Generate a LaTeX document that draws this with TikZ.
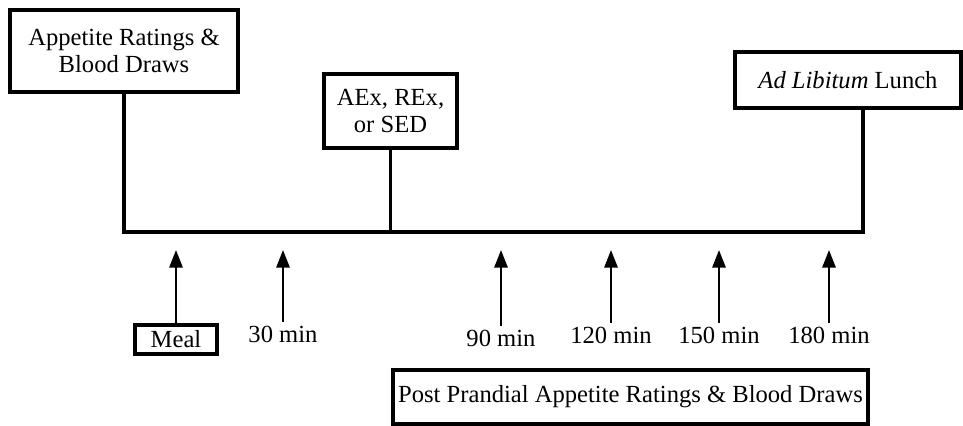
\documentclass[tikz,border=0pt]{standalone}
\usepackage{fontspec}
\setmainfont{Liberation Serif}
\usetikzlibrary{arrows.meta}

\begin{document}
\begin{tikzpicture}[
  every node/.style={font=\fontsize{14pt}{15.6pt}\selectfont},
  box/.style={draw,line width=2.3pt,align=center,inner sep=0pt},
  timeline/.style={line width=2pt},
  tick/.style={line width=1.3pt,-{Triangle[length=10pt,width=7.5pt]}}
]
\useasboundingbox (0,0) rectangle (19.26,-8.52);

% boxes above the time line
\node (appetite) at (2.48,-1.02)[box,minimum width=4.56cm,minimum height=1.64cm]{Appetite Ratings \&\\Blood Draws};
\node (exercise) at (7.81,-2.22)[box,minimum width=2.66cm,minimum height=1.48cm]{AEx, REx,\\or SED};
\node (lunch) at (16.96,-1.60)[box,minimum width=4.52cm,minimum height=1.12cm]{\textit{Ad Libitum} Lunch};

% time line
\coordinate (tl) at (2.48,-4.64);
\coordinate (tr) at (17.26,-4.64);
\draw[timeline] (appetite.south) -- (tl) -- (tr) -- (lunch.south -| tr);
\draw[timeline] (exercise.south) -- (exercise.south |- tl);

% time points below
\coordinate (top) at (0,-5.0);
\node (meal) at (3.52,-6.79)[box,line width=2pt,minimum width=1.64cm,minimum height=0.58cm]{Meal};
\node (t30) at (5.66,-6.68)[inner sep=2pt]{30 min};
\node (t90) at (10.02,-6.76)[inner sep=2pt]{90 min};
\node (t120) at (12.22,-6.70)[inner sep=2pt]{120 min};
\node (t150) at (14.38,-6.70)[inner sep=2pt]{150 min};
\node (t180) at (16.58,-6.70)[inner sep=2pt]{180 min};
\foreach \t in {meal,t30,t90,t120,t150,t180}
  \draw[tick] (\t.north) -- (\t.north |- top);

\node (post) at (12.61,-7.94)[box,minimum width=9.5cm,minimum height=1.08cm]{Post Prandial Appetite Ratings \& Blood Draws};
\end{tikzpicture}
\end{document}
